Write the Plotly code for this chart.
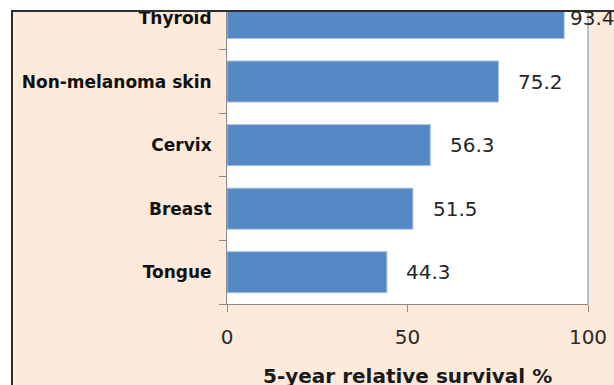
import plotly.graph_objects as go

# Five-year relative survival by cancer site (top to bottom as displayed)
sites = ["Thyroid", "Non-melanoma skin", "Cervix", "Breast", "Tongue"]
survival = [93.4, 75.2, 56.3, 51.5, 44.3]
x_ticks = [0, 50, 100]
x_title = "5-year relative survival %"

W, H = 614, 385
ML, MR, MT, MB = 227, 26, 10, 81
PW, PH = W - ML - MR, H - MT - MB

BAR = "#5589C5"
PEACH = "#FDEADA"
FONT = "DejaVu Sans"


def px_x(px):
    """Pixel column -> paper x."""
    return (px - ML) / PW


def px_y(py):
    """Pixel row -> paper y."""
    return (H - MB - py) / PH


fig = go.Figure(
    go.Bar(
        x=survival,
        y=sites,
        orientation="h",
        marker=dict(color=BAR, line=dict(color="#A9C2E0", width=1)),
        hoverinfo="x+y",
    )
)

# value labels just past the end of each bar
label_gap = [4, 18, 18, 18, 17]
for site, val, gap in zip(sites, survival, label_gap):
    fig.add_annotation(
        x=val, y=site, xref="x", yref="y",
        text=f"{val:.1f}", showarrow=False,
        xanchor="left", yanchor="middle", xshift=gap,
        font=dict(family=FONT, size=20, color="#262626"),
    )

# x-axis title near the bottom edge of the chart
fig.add_annotation(
    x=0.5, y=px_y(375.5), xref="paper", yref="paper",
    text=f"<b>{x_title}</b>", showarrow=False,
    xanchor="center", yanchor="middle",
    font=dict(family=FONT, size=20, color="#1A1A1A"),
)

# plot-area border on the right
fig.add_shape(type="line", xref="paper", yref="paper",
              x0=1, x1=1, y0=0, y1=1,
              line=dict(color="#95B3D7", width=1.5), layer="above")

# chart frame: white surround above and to the left, dark edge line
fig.add_shape(type="rect", xref="paper", yref="paper",
              x0=px_x(-5), x1=px_x(W + 5), y0=px_y(10), y1=px_y(-5),
              fillcolor="white", line=dict(width=0), layer="above")
fig.add_shape(type="rect", xref="paper", yref="paper",
              x0=px_x(-5), x1=px_x(11), y0=px_y(H + 5), y1=px_y(-5),
              fillcolor="white", line=dict(width=0), layer="above")
fig.add_shape(type="line", xref="paper", yref="paper",
              x0=px_x(11), x1=px_x(W + 5), y0=px_y(11), y1=px_y(11),
              line=dict(color="#2E2E2E", width=2), layer="above")
fig.add_shape(type="line", xref="paper", yref="paper",
              x0=px_x(12), x1=px_x(12), y0=px_y(10), y1=px_y(H + 5),
              line=dict(color="#2E2E2E", width=2), layer="above")

fig.update_layout(
    width=W, height=H,
    margin=dict(l=ML, r=MR, t=MT, b=MB, pad=0, autoexpand=False),
    paper_bgcolor=PEACH,
    plot_bgcolor="white",
    bargap=0.354,
    showlegend=False,
    font=dict(family=FONT, color="#222222"),
)

fig.update_xaxes(
    range=[0, 100],
    automargin=False,
    tickvals=x_ticks,
    ticktext=[str(t) for t in x_ticks],
    ticks="outside", ticklen=7, tickcolor="#8C8C8C", tickwidth=1,
    showline=True, linecolor="#8C8C8C", linewidth=1,
    showgrid=False, zeroline=False,
    tickfont=dict(family=FONT, size=20, color="#2A2A2A"),
    ticklabelstandoff=8,
)

fig.update_yaxes(
    type="category",
    automargin=False,
    categoryorder="array",
    categoryarray=list(reversed(sites)),
    range=[-0.5, 4.126],
    ticks="outside", ticklen=7, tickcolor="#8C8C8C", tickwidth=1,
    tickson="boundaries",
    showline=True, linecolor="#8C8C8C", linewidth=1,
    showgrid=False, zeroline=False,
    tickfont=dict(family=FONT, size=17, color="#111111", weight="bold"),
    ticklabelstandoff=11,
)

fig.write_html("out.html")
